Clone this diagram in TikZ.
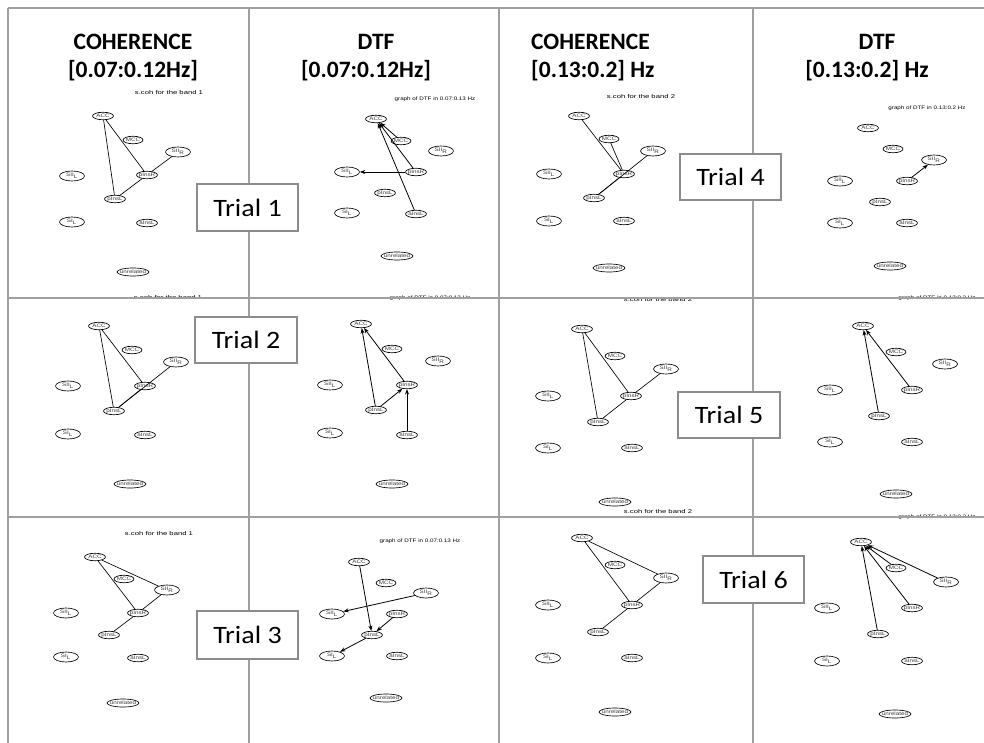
\documentclass[tikz,border=0pt]{standalone}
\usepackage{fontspec}
\setmainfont{Carlito}
\newfontfamily\arialf{Liberation Sans}
\usepackage{graphicx}
\usetikzlibrary{shapes.geometric,arrows.meta}
\definecolor{gridgray}{HTML}{A0A0A0}
\definecolor{boxgray}{HTML}{8C8C8C}
\definecolor{lblgray}{HTML}{3A3A3A}
\def\lblACC{ACC}
\def\lblMCC{MCC}
\def\lblSIIR{SII\textsubscript{R}}
\def\lblSIIL{SII\textsubscript{L}}
\def\lblpInsR{pInsR}
\def\lblpInsL{pInsL}
\def\lblSIL{SI\textsubscript{L}}
\def\lblaInsL{aInsL}
\def\lblunrel{unrelated}
\newcommand\gsx[1]{\scalebox{1.25}[1]{#1}}
\newcommand\csx[1]{\scalebox{1.4}[1]{#1}}
\newcommand\dsx[1]{\scalebox{1.25}[1]{#1}}
\newcommand\tsx[1]{\scalebox{1.12}[1]{#1}}
\newcommand\gpanel[2]{%
  \foreach \n/\x/\y in {#2}{%
    \node[gnode,g-\n,label={[glabel]center:\gsx{\csname lbl\n\endcsname}}] (#1\n) at (\x,\y) {};
  }}
\tikzset{
  gridline/.style={draw=gridgray, line width=2.6pt},
  gnode/.style={ellipse, draw=black, line width=0.65pt, inner sep=0pt, fill=white,
    minimum width=21pt, minimum height=7.5pt},
  glabel/.style={font=\arialf\fontsize{5}{5}\selectfont, text=lblgray, inner sep=0pt},
  g-ACC/.style={minimum width=21pt},
  g-MCC/.style={minimum width=20pt},
  g-SIIR/.style={minimum width=25pt, minimum height=10pt},
  g-SIIL/.style={minimum width=25pt, minimum height=10pt},
  g-SIL/.style={minimum width=25pt, minimum height=10pt},
  g-pInsR/.style={minimum width=21pt},
  g-pInsL/.style={minimum width=21pt},
  g-aInsL/.style={minimum width=21pt},
  g-unrel/.style={minimum width=32pt, minimum height=8pt},
  cedge/.style={draw=black, line width=0.65pt},
  dedge/.style={draw=black, line width=0.8pt, -{Stealth[length=5.5pt,width=4pt]}},
  title/.style={font=\bfseries\fontsize{23.5}{23.5}\selectfont, anchor=base, inner sep=0pt},
  titlew/.style={title, anchor=base west},
  capc/.style={font=\arialf\fontsize{5.5}{5.5}\selectfont, inner sep=0pt},
  capd/.style={font=\arialf\fontsize{5}{5}\selectfont, inner sep=0pt},
  trialbox/.style={draw=boxgray, line width=2.4pt, fill=white, inner sep=0pt,
    minimum width=101pt, minimum height=47pt, font=\fontsize{25}{25}\selectfont},
}
\begin{document}
\begin{tikzpicture}[x=1pt,y=-1pt]
\useasboundingbox (0,0) rectangle (984,743);
\begin{scope}
\clip (0,0) rectangle (984,743);
% captions
\node[capc] (cap1) at (169,93) {\csx{s.coh for the band 1}};
\node[capd] (cap2) at (435,99) {\dsx{graph of DTF in 0.07:0.13 Hz}};
\node[capc] (cap3) at (641,97) {\csx{s.coh for the band 2}};
\node[capd] (cap4) at (927,108) {\dsx{graph of DTF in 0.13:0.2 Hz}};
\node[capc] (cap5) at (168,298) {\csx{s.coh for the band 1}};
\node[capd] (cap6) at (430,298) {\dsx{graph of DTF in 0.07:0.13 Hz}};
\node[capc] (cap7) at (658,300) {\csx{s.coh for the band 2}};
\node[capd] (cap8) at (937,298) {\dsx{graph of DTF in 0.13:0.2 Hz}};
\node[capc] (cap9) at (159,534) {\csx{s.coh for the band 1}};
\node[capd] (cap10) at (420,541) {\dsx{graph of DTF in 0.07:0.13 Hz}};
\node[capc] (cap11) at (658,512) {\csx{s.coh for the band 2}};
\node[capd] (cap12) at (937,517) {\dsx{graph of DTF in 0.13:0.2 Hz}};
% grid
\draw[gridline] (8,8) -- (984,8);
\draw[gridline] (8,8) -- (8,743);
\draw[gridline] (249,8) -- (249,743);
\draw[gridline] (499,8) -- (499,743);
\draw[gridline] (753,8) -- (753,743);
\draw[gridline] (8,298) -- (984,298);
\draw[gridline] (8,517) -- (984,517);
\end{scope}
% titles
\node[title] (h1a) at (133,50) {COHERENCE};
\node[title] (h1b) at (133,78) {[0.07:0.12Hz]};
\node[title] (h2a) at (376,50) {DTF};
\node[title] (h2b) at (366,78) {[0.07:0.12Hz]};
\node[titlew] (h3a) at (531,50) {COHERENCE};
\node[titlew] (h3b) at (531,78) {[0.13:0.2] Hz};
\node[title] (h4a) at (877,50) {DTF};
\node[title] (h4b) at (867,78) {[0.13:0.2] Hz};
% ---- panel c1
\gpanel{ca}{ACC/103/116, MCC/133/140, SIIR/178/152, SIIL/72/176, pInsR/147/175, pInsL/115/199, SIL/72/222, aInsL/147/223, unrel/133/272}
\draw[cedge] (caACC) -- (capInsL);
\draw[cedge] (caACC) -- (capInsR);
\draw[cedge] (capInsR) -- (caSIIR);
\draw[cedge] (capInsR) -- (capInsL);
% ---- panel d1
\gpanel{da}{ACC/376/119, MCC/401/141, SIIR/441/151, SIIL/347/172, pInsR/416/172, pInsL/385/193, SIL/347/213, aInsL/416/214, unrel/397/256}
\draw[dedge] (daMCC) -- (daACC);
\draw[dedge] (dapInsR) -- (daACC);
\draw[dedge] (daaInsL) -- (daACC);
\draw[dedge] (dapInsR) -- (daSIIL);
% ---- panel c4
\gpanel{cd}{ACC/579/116, MCC/609/139, SIIR/653/151, SIIL/549/174, pInsR/624/174, pInsL/594/198, SIL/549/221, aInsL/624/221, unrel/609/268}
\draw[cedge] (cdACC) -- (cdpInsR);
\draw[cedge] (cdMCC) -- (cdpInsR);
\draw[cedge] (cdSIIR) -- (cdpInsL);
\draw[cedge] (cdpInsR) -- (cdpInsL);
% ---- panel d4
\gpanel{dd}{ACC/868/128, MCC/893/149, SIIR/934/160, SIIL/840/181, pInsR/907/181, pInsL/880/202, SIL/840/223, aInsL/907/223, unrel/890/266}
\draw[dedge] (ddpInsR) -- (ddSIIR);
% ---- panel c2
\gpanel{cb}{ACC/99/326, MCC/132/350, SIIR/176/362, SIIL/68/386, pInsR/145/386, pInsL/114/411, SIL/68/434, aInsL/145/435, unrel/130/484}
\draw[cedge] (cbACC) -- (cbpInsL);
\draw[cedge] (cbACC) -- (cbpInsR);
\draw[cedge] (cbSIIR) -- (cbpInsL);
\draw[cedge] (cbpInsR) -- (cbpInsL);
% ---- panel d2
\gpanel{db}{ACC/361/324, MCC/392/349, SIIR/438/361, SIIL/330/385, pInsR/407/385, pInsL/376/410, SIL/330/433, aInsL/407/435, unrel/392/484}
\draw[dedge] (dbpInsL) -- (dbACC);
\draw[dedge] (dbpInsR) -- (dbACC);
\draw[dedge] (dbpInsL) -- (dbpInsR);
\draw[dedge] (dbaInsL) -- (dbpInsR);
% ---- panel c5
\gpanel{ce}{ACC/582/329, MCC/615/356, SIIR/666/369, SIIL/548/396, pInsR/631/396, pInsL/598/422, SIL/548/448, aInsL/632/448, unrel/615/502}
\draw[cedge] (ceACC) -- (cepInsL);
\draw[cedge] (ceACC) -- (cepInsR);
\draw[cedge] (ceSIIR) -- (cepInsR);
\draw[cedge] (cepInsR) -- (cepInsL);
% ---- panel d5
\gpanel{de}{ACC/863/326, MCC/896/352, SIIR/945/364, SIIL/830/390, pInsR/912/390, pInsL/879/416, SIL/830/442, aInsL/912/442, unrel/896/494}
\draw[dedge] (depInsL) -- (deACC);
\draw[dedge] (depInsR) -- (deACC);
% ---- panel c3
\gpanel{cc}{ACC/95/557, MCC/124/579, SIIR/167/590, SIIL/66/613, pInsR/138/613, pInsL/109/635, SIL/66/657, aInsL/138/658, unrel/123/703}
\draw[cedge] (ccACC) -- (ccSIIR);
\draw[cedge] (ccACC) -- (ccpInsR);
\draw[cedge] (ccSIIR) -- (ccpInsR);
\draw[cedge] (ccpInsR) -- (ccpInsL);
% ---- panel d3
\gpanel{dc}{ACC/359/562, MCC/386/583, SIIR/426/593, SIIL/332/614, pInsR/397/614, pInsL/372/635, SIL/332/656, aInsL/397/656, unrel/386/698}
\draw[dedge] (dcACC) -- (dcpInsL);
\draw[dedge] (dcSIIR) -- (dcSIIL);
\draw[dedge] (dcpInsR) -- (dcpInsL);
\draw[dedge] (dcpInsL) -- (dcSIL);
% ---- panel c6
\gpanel{cf}{ACC/582/538, MCC/615/565, SIIR/666/578, SIIL/548/605, pInsR/632/605, pInsL/598/632, SIL/548/658, aInsL/632/658, unrel/615/712}
\draw[cedge] (cfACC) -- (cfSIIR);
\draw[cedge] (cfACC) -- (cfpInsR);
\draw[cedge] (cfSIIR) -- (cfpInsR);
\draw[cedge] (cfpInsR) -- (cfpInsL);
% ---- panel d6
\gpanel{df}{ACC/861/542, MCC/896/568, SIIR/946/582, SIIL/827/608, pInsR/912/608, pInsL/878/634, SIL/827/661, aInsL/912/661, unrel/895/714}
\draw[dedge] (dfMCC) -- (dfACC);
\draw[dedge] (dfSIIR) -- (dfACC);
\draw[dedge] (dfpInsR) -- (dfACC);
\draw[dedge] (dfpInsL) -- (dfACC);
% ---- trial boxes
\node[trialbox] (tr1) at (247.5,207.5) {\tsx{Trial 1}};
\node[trialbox, minimum width=102pt, minimum height=46pt] (tr2) at (246,340) {\tsx{Trial 2}};
\node[trialbox, minimum height=48pt] (tr3) at (247.5,635) {\tsx{Trial 3}};
\node[trialbox, minimum height=46pt] (tr4) at (730.5,177) {\tsx{Trial 4}};
\node[trialbox, minimum width=102pt, minimum height=46pt] (tr5) at (729,415) {\tsx{Trial 5}};
\node[trialbox] (tr6) at (753.5,579.5) {\tsx{Trial 6}};
\end{tikzpicture}
\end{document}
